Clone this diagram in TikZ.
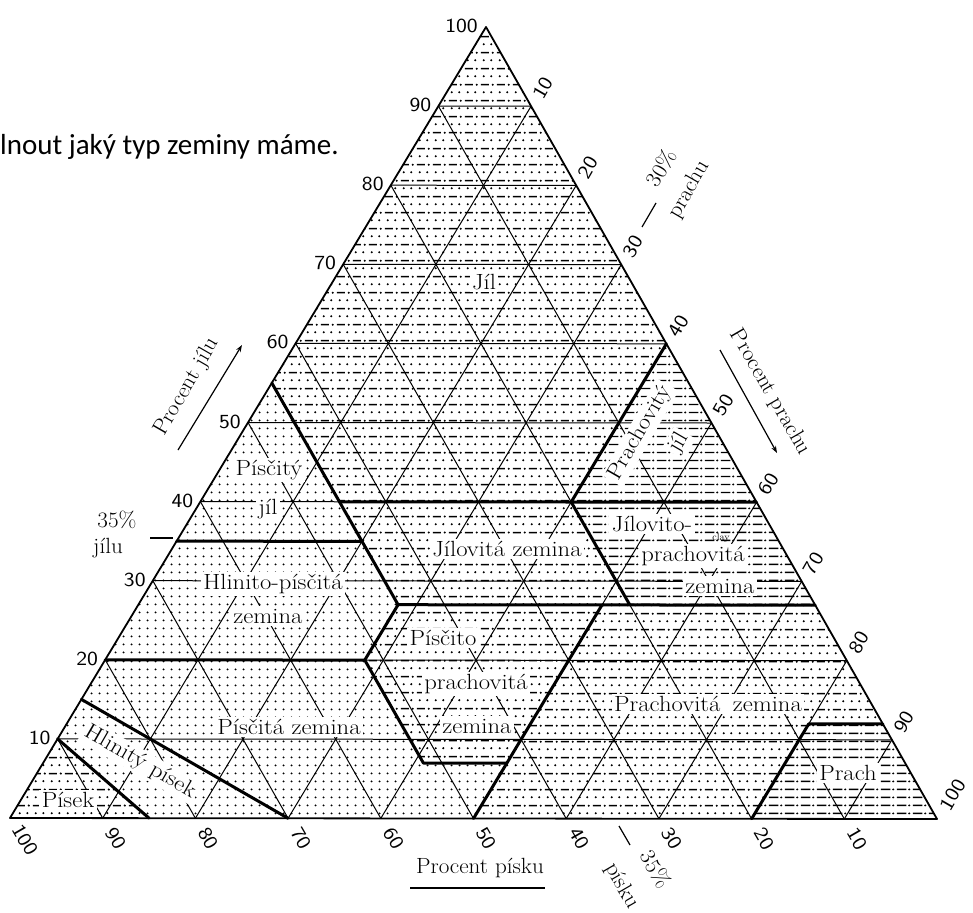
\documentclass[tikz,border=0pt]{standalone}
\usepackage{fontspec}
\newfontfamily\carlito{Carlito}
\usetikzlibrary{patterns,calc,arrows.meta}

\pgfdeclarepatternformonly{dotpat}{\pgfqpoint{0pt}{0pt}}{\pgfqpoint{8pt}{8pt}}{\pgfqpoint{8pt}{8pt}}{%
  \pgfpathcircle{\pgfqpoint{4pt}{4pt}}{1.2pt}\pgfusepath{fill}}
\pgfdeclarepatternformonly{mixpat}{\pgfqpoint{0pt}{0pt}}{\pgfqpoint{16pt}{16pt}}{\pgfqpoint{16pt}{16pt}}{%
  \pgfpathcircle{\pgfqpoint{4pt}{4pt}}{1.2pt}\pgfpathcircle{\pgfqpoint{12pt}{4pt}}{1.2pt}%
  \pgfpathcircle{\pgfqpoint{13.5pt}{12pt}}{1.2pt}\pgfusepath{fill}%
  \pgfsetlinewidth{1.5pt}\pgfpathmoveto{\pgfqpoint{1pt}{12pt}}\pgfpathlineto{\pgfqpoint{9.5pt}{12pt}}\pgfusepath{stroke}}
\pgfdeclarepatternformonly{dashpat}{\pgfqpoint{0pt}{0pt}}{\pgfqpoint{16pt}{8pt}}{\pgfqpoint{16pt}{8pt}}{%
  \pgfsetlinewidth{1.5pt}\pgfpathmoveto{\pgfqpoint{1pt}{4pt}}\pgfpathlineto{\pgfqpoint{11pt}{4pt}}\pgfusepath{stroke}%
  \pgfpathcircle{\pgfqpoint{14pt}{4pt}}{1.2pt}\pgfusepath{fill}}

% ternary point: name, sand, silt, clay (percent)
\newcommand\ternc[4]{\coordinate (#1) at ({#2*0.1+#3*9.37+#4*4.86},{#2*8.18+#3*8.19+#4*0.27});}
% wider lettering, as in the scan
\newcommand\wl[1]{\scalebox{1.12}[1]{#1}}
\newcommand\wa[1]{\scalebox{1.05}[1]{#1}}
\newcommand\wn[1]{\scalebox{1.15}[1]{#1}}

\tikzset{
  lbl/.style={font=\fontsize{22}{24}\selectfont, fill=white, inner sep=2.5pt},
  ann/.style={font=\fontsize{22}{24}\selectfont, inner sep=0pt},
  num/.style={font=\sffamily\fontsize{20}{22}\selectfont, inner sep=0pt},
  gridl/.style={line width=1pt},
  bound/.style={line width=3pt, line cap=round, line join=round},
  outline/.style={line width=1.8pt, line join=round},
  thinl/.style={line width=1.2pt},
}

\begin{document}
\begin{tikzpicture}[x=1pt,y=-1pt]
\useasboundingbox (0,0) rectangle (973,912);
\fill[white] (0,0) rectangle (973,912);

% corners
\coordinate (BL) at (10,818);
\coordinate (BR) at (937,819);
\coordinate (TP) at (486,27);

% class boundary points (sand, silt, clay)
\ternc{cA}{45}{0}{55}
\ternc{cB}{45}{20}{35}
\ternc{cL35}{65}{0}{35}
\ternc{cB40}{45}{15}{40}
\ternc{cC27}{45}{28}{27}
\ternc{cD20}{52}{28}{20}
\ternc{cL20}{80}{0}{20}
\ternc{cD7}{52}{41}{7}
\ternc{cE7}{43}{50}{7}
\ternc{cE0}{50}{50}{0}
\ternc{cE27}{23}{50}{27}
\ternc{cF40}{20}{40}{40}
\ternc{cF60}{0}{40}{60}
\ternc{cR40}{0}{60}{40}
\ternc{cF27}{20}{53}{27}
\ternc{cR27}{0}{73}{27}
\ternc{cG0}{20}{80}{0}
\ternc{cG12}{8}{80}{12}
\ternc{cR12}{0}{88}{12}
\ternc{cH15}{85}{0}{15}
\ternc{cH0}{70}{30}{0}
\ternc{cI10}{90}{0}{10}
\ternc{cI0}{85}{15}{0}

% textures of the classes
\fill[pattern=mixpat]  (BL) -- (cI10) -- (cI0) -- cycle;
\fill[pattern=dotpat]  (cI10) -- (cH15) -- (cH0) -- (cI0) -- cycle;
\fill[pattern=dotpat]  (cH15) -- (cL20) -- (cD20) -- (cD7) -- (cE7) -- (cE0) -- (cH0) -- cycle;
\fill[pattern=dotpat]  (cL20) -- (cL35) -- (cB) -- (cC27) -- (cD20) -- cycle;
\fill[pattern=dotpat]  (cL35) -- (cA) -- (cB) -- cycle;
\fill[pattern=mixpat]  (TP) -- (cA) -- (cB40) -- (cF40) -- (cF60) -- cycle;
\fill[pattern=dashpat] (cF60) -- (cF40) -- (cR40) -- cycle;
\fill[pattern=mixpat]  (cB40) -- (cF40) -- (cF27) -- (cC27) -- (cB) -- cycle;
\fill[pattern=dashpat] (cF40) -- (cR40) -- (cR27) -- (cF27) -- cycle;
\fill[pattern=mixpat]  (cC27) -- (cE27) -- (cE7) -- (cD7) -- (cD20) -- cycle;
\fill[pattern=mixpat]  (cE27) -- (cR27) -- (cR12) -- (cG12) -- (cG0) -- (cE0) -- cycle;
\fill[pattern=dashpat] (cG0) -- (cG12) -- (cR12) -- (BR) -- cycle;

% grid and tick points
\foreach \i in {10,20,...,90}{
  \pgfmathtruncatemacro\j{100-\i}
  \ternc{lp\i}{\j}{0}{\i}
  \ternc{rq\i}{0}{\j}{\i}
  \ternc{bp\i}{\i}{\j}{0}
  \ternc{sl\i}{\i}{0}{\j}
  \ternc{rp\i}{0}{\i}{\j}
  \ternc{bq\i}{\j}{\i}{0}
  \draw[gridl] (lp\i) -- (rq\i);
  \draw[gridl] (sl\i) -- (bp\i);
  \draw[gridl] (rp\i) -- (bq\i);
}

% class labels
\node[lbl] (jil) at (484,282) {\wl{Jíl}};
\node[lbl] (pj1) at (269,470) {\wl{Písčitý}};
\node[lbl] (pj2) at (268,509) {\wl{jíl}};
\node[lbl,rotate=60] (prj1) at (640,433) {\wl{Prachovitý}};
\node[lbl,rotate=60] (prj2) at (679,443) {\wl{jíl}};
\node[lbl] (jz) at (507,549) {\wl{Jílovitá zemina}};
\node[lbl] (jp1) at (652,524) {\wl{Jílovito-}};
\node[lbl] (jp2) at (693,556) {\wl{prachovitá}};
\node[font=\fontsize{10}{11}\selectfont, inner sep=0pt] (clay) at (721,538) {clay};
\node[lbl] (jp3) at (720,586) {\wl{zemina}};
\node[lbl] (hp1) at (273,584) {\wl{Hlinito-písčitá}};
\node[lbl] (hp2) at (268,616) {\wl{zemina}};
\node[lbl] (pp1) at (443,638) {\wl{Písčito}};
\node[lbl] (pp2) at (476,684) {\wl{prachovitá}};
\node[lbl] (pp3) at (477,726) {\wl{zemina}};
\node[lbl] (pz) at (289,727) {\wl{Písčitá zemina}};
\node[lbl] (prz) at (708,704) {\wl{Prachovitá\hspace{0.5em}zemina}};
\node[lbl] (prach) at (848,773) {\wl{Prach}};
\node[lbl,rotate=-30] (hps) at (140,762) {\wl{Hlinitý písek}};
\node[lbl] (pisek) at (68,800) {\wl{Písek}};

% class boundaries
\draw[bound] (cA) -- (cB40) -- (cB) -- (cC27);
\draw[bound] (cL35) -- (cB);
\draw[bound] (cB40) -- (cR40);
\draw[bound] (cF60) -- (cF40) -- (cF27);
\draw[bound] (cC27) -- (cR27);
\draw[bound] (cC27) -- (cD20);
\draw[bound] (cL20) -- (cD20) -- (cD7) -- (cE7);
\draw[bound] (cE27) -- (cE0);
\draw[bound] (cG0) -- (cG12) -- (cR12);
\draw[bound] (cH15) -- (cH0);
\draw[bound] (cI10) -- (cI0);
\draw[outline] (TP) -- (BL) -- (BR) -- cycle;

% tick labels: clay (left), silt (right), sand (bottom)
\foreach \c in {10,20,...,90}{
  \node[num,anchor=east] (lc\c) at ([xshift=-7pt,yshift=1pt]lp\c) {\wn{\c}};
  \node[num,rotate=60] (rm\c) at ([xshift=12pt,yshift=18pt]rp\c) {\wn{\c}};
  \node[num,rotate=-60] (bs\c) at ([xshift=13pt,yshift=-20pt]bp\c) {\wn{\c}};
}
\node[num,anchor=east] (lc100) at ([xshift=-8pt,yshift=1pt]TP) {\wn{100}};
\node[num,rotate=60] (rm100) at ([xshift=16pt,yshift=24pt]BR) {\wn{100}};
\node[num,rotate=-60] (bs100) at ([xshift=15pt,yshift=-22pt]BL) {\wn{100}};

% 35 % clay note
\coordinate (d35a) at (150,538);
\coordinate (d35b) at (173,538);
\draw[thinl] (d35a) -- (d35b);
\node[ann] (n35) at (117,520) {\wa{35\%}};
\node[ann] (n35j) at (108,548) {\wa{jílu}};

% 30 % silt note
\coordinate (d30a) at (642,227);
\coordinate (d30b) at (656,203);
\draw[thinl] (d30a) -- (d30b);
\node[ann,rotate=60] (n30) at (661,168) {\wa{30\%}};
\node[ann,rotate=60] (n30p) at (689,190) {\wa{prachu}};

% 35 % sand note
\coordinate (s35a) at (619,826);
\coordinate (s35b) at (630,845);
\draw[thinl] (s35a) -- (s35b);
\node[ann,rotate=-60] (s35) at (656,869) {\wa{35\%}};
\node[ann,rotate=-60] (s35p) at (622,886) {\wa{písku}};

% axis titles
\coordinate (ja1) at (178,450);
\coordinate (ja2) at (242,345);
\draw[thinl,-{Stealth[length=7pt,width=5pt]}] (ja1) -- (ja2);
\node[ann,rotate=60] (tj) at (187,387) {\wa{Procent jílu}};

\coordinate (pa1) at (720,350);
\coordinate (pa2) at (777,453);
\draw[thinl,-{Stealth[length=7pt,width=5pt]}] (pa1) -- (pa2);
\node[ann,rotate=-60] (tp) at (770,392) {\wa{Procent prachu}};

\node[ann] (ts) at (480,868) {\wa{Procent písku}};
\coordinate (ua) at (410,888);
\coordinate (ub) at (545,888);
\draw[thinl] (ua) -- (ub);

% slide text
\node[anchor=base west, inner sep=0pt, font=\carlito\fontsize{29}{32}\selectfont] (intro) at (0,154) {lnout jaký typ zeminy máme.};
\end{tikzpicture}
\end{document}
